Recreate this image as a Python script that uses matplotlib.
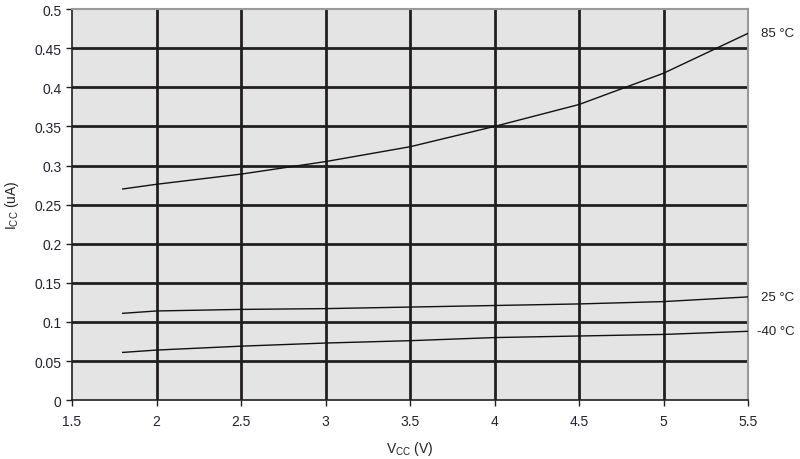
import matplotlib
matplotlib.use("Agg")
import matplotlib.pyplot as plt

plt.rcParams['font.family'] = ['Liberation Sans', 'DejaVu Sans']

vcc = [1.8, 2.0, 2.5, 3.0, 3.5, 4.0, 4.5, 5.0, 5.5]
icc_85 = [0.270, 0.276, 0.289, 0.305, 0.324, 0.350, 0.378, 0.418, 0.469]
icc_25 = [0.111, 0.114, 0.116, 0.117, 0.119, 0.121, 0.123, 0.126, 0.132]
icc_m40 = [0.061, 0.064, 0.069, 0.073, 0.076, 0.080, 0.082, 0.084, 0.088]
labels = ["85 °C", "25 °C", "-40 °C"]
label_offsets = [13, 13, 9]
xticks = [1.5, 2, 2.5, 3, 3.5, 4, 4.5, 5, 5.5]
yticks = [0, 0.05, 0.1, 0.15, 0.2, 0.25, 0.3, 0.35, 0.4, 0.45, 0.5]

fig = plt.figure(figsize=(8, 4.6), dpi=100)
ax = fig.add_axes([0.09, 0.128, 0.845, 0.85])
ax.set_facecolor('#e4e4e4')
dark = '#231f20'
for x in xticks[1:-1]:
    ax.axvline(x, color=dark, lw=2, zorder=1)
for y in yticks[1:-1]:
    ax.axhline(y, color=dark, lw=2, zorder=1)

for ys, lab, off in zip([icc_85, icc_25, icc_m40], labels, label_offsets):
    ax.plot(vcc, ys, color='#111111', lw=1, zorder=3)
    ax.annotate(lab, xy=(1.0, ys[-1]), xycoords=('axes fraction', 'data'),
                xytext=(off, 0), textcoords='offset pixels', va='center', ha='left',
                fontsize=9.5, color='#222222')

ax.set_xlim(1.5, 5.5)
ax.set_ylim(0, 0.5)
ax.set_xticks(xticks)
ax.set_xticklabels([f"{v:g}" for v in xticks])
ax.set_yticks(yticks)
ax.set_yticklabels([f"{v:g}" for v in yticks])
ax.tick_params(direction='out', length=4, width=1, colors=dark, labelsize=10, labelcolor='#222233')
ax.tick_params(axis='x', pad=6)
for s in ['left', 'bottom']:
    ax.spines[s].set_color(dark)
    ax.spines[s].set_linewidth(1.2)
for s in ['top', 'right']:
    ax.spines[s].set_color('#999999')
    ax.spines[s].set_linewidth(1.5)

ax.set_xlabel("V$_{\\mathregular{CC}}$ (V)", fontsize=10, color='#222222', labelpad=8)
ax.set_ylabel("I$_{\\mathregular{CC}}$ (uA)", fontsize=10, color='#222222', labelpad=10)

fig.savefig('out.png', dpi=100)
